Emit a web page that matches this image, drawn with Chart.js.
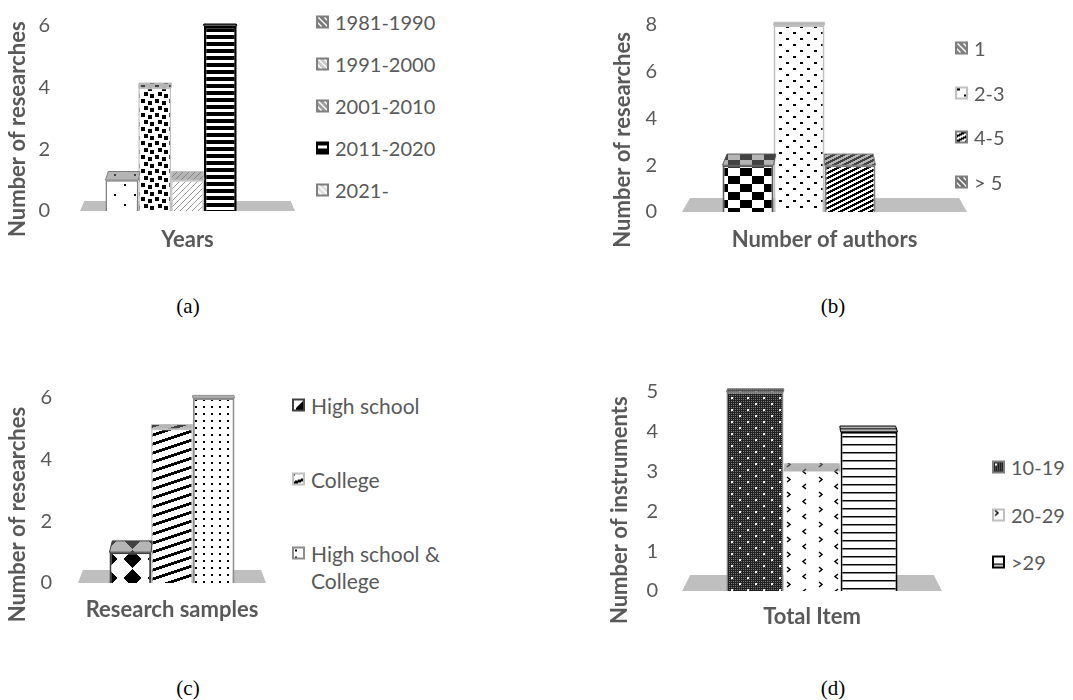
<!DOCTYPE html>
<html>
<head>
<meta charset="utf-8">
<script src="https://cdn.jsdelivr.net/npm/chart.js@4.4.1/dist/chart.umd.min.js"></script>
<style>
  body { margin: 0; background: #fff; width: 1073px; height: 700px; position: relative; overflow: hidden; font-family: Lato, sans-serif; }
  canvas.chart { position: absolute; }
  .item { position: absolute; display: flex; align-items: flex-start; color: #595959; font-size: 20px; line-height: 27px; transform: translateY(-13.5px); }
  .item canvas { margin-top: 7px; margin-right: 6px; flex: none; }
  .caption { position: absolute; font-family: "Liberation Serif", serif; font-size: 21px; color: #000; transform: translate(-50%, -50%); }
</style>
</head>
<body>
<canvas id="years" class="chart"></canvas>
<canvas id="authors" class="chart"></canvas>
<canvas id="samples" class="chart"></canvas>
<canvas id="items" class="chart"></canvas>
<div class="caption" style="left:188px;top:306px">(a)</div>
<div class="caption" style="left:833px;top:306px">(b)</div>
<div class="caption" style="left:188px;top:688px">(c)</div>
<div class="caption" style="left:833px;top:688px">(d)</div>
<script>
// --- data ---
const yearsLabels = ['1981-1990', '1991-2000', '2001-2010', '2011-2020', '2021-'];
const yearsCounts = [1, 4, 1, 6, 0];
const yearsTicks = [0, 2, 4, 6];

const authorsLabels = ['1', '2-3', '4-5', '> 5'];
const authorsCounts = [2, 8, 2, 0];
const authorsTicks = [0, 2, 4, 6, 8];

const samplesLabels = ['High school', 'College', 'High school & College'];
const samplesCounts = [1, 5, 6];
const samplesTicks = [0, 2, 4, 6];

const itemsLabels = ['10-19', '20-29', '>29'];
const itemsCounts = [5, 3, 4];
const itemsTicks = [0, 1, 2, 3, 4, 5];

const INK = '#595959';

// small pattern tiles, built once
function tile(w, h, paint) {
  const c = document.createElement('canvas');
  c.width = w; c.height = h;
  const g = c.getContext('2d');
  g.fillStyle = '#fff';
  g.fillRect(0, 0, w, h);
  paint(g, w, h);
  return c;
}
function pixels(w, h, fn) {
  return tile(w, h, g => {
    for (let y = 0; y < h; y++) for (let x = 0; x < w; x++) {
      const col = fn(x, y);
      if (col) { g.fillStyle = col; g.fillRect(x, y, 1, 1); }
    }
  });
}
function chevron(g, x, y, dir) {
  g.beginPath();
  g.moveTo(x, y); g.lineTo(x + 3 * dir, y + 2.5); g.lineTo(x, y + 5);
  g.stroke();
}
function hatch(grey) {
  return pixels(6, 6, (x, y) => ((x - y) % 6 + 6) % 6 < 2 ? '#fff' : grey);
}

const TILES = {
  sparseDots: () => tile(20, 20, g => { g.fillStyle = '#000'; g.fillRect(4, 4, 2, 2); g.fillRect(14, 14, 2, 2); }),
  confetti: () => tile(14, 14, g => { g.fillStyle = '#000'; [[1, 1], [8, 3], [4, 8], [10, 10]].forEach(([x, y]) => g.fillRect(x, y, 4, 4)); }),
  fineDiag: () => pixels(6, 6, (x, y) => (x + y) % 6 === 0 ? '#9a9a9a' : null),
  hStripes: () => pixels(1, 7, (x, y) => y < 4 ? '#000' : null),
  paleDiag: () => pixels(6, 6, (x, y) => (x + y) % 6 === 0 ? '#c8c8c8' : null),
  checker: () => pixels(24, 16, (x, y) => (Math.floor(x / 12) + Math.floor(y / 8)) % 2 ? null : '#000'),
  dashGrid: () => tile(14, 12, g => { g.fillStyle = '#000'; g.fillRect(2, 2, 3, 2); g.fillRect(9, 8, 3, 2); }),
  lowDiag: () => pixels(10, 5, (x, y) => (x + 2 * y) % 10 < 5 ? '#000' : null),
  blobs: () => pixels(24, 19, (x, y) => {
    const dx = Math.abs(x - 12), dy = Math.abs(y - 9.5);
    return (dx + dy <= 9 || dx * dx + dy * dy <= 42) ? '#000' : null;
  }),
  wideDiag: () => pixels(27, 9, (x, y) => (x + 3 * y) % 27 < 9 ? '#000' : null),
  dotCols: () => tile(8, 7, g => { g.fillStyle = '#000'; g.fillRect(3, 3, 2, 2); }),
  mesh: () => pixels(16, 12, (x, y) => {
    if ((x === 3 || x === 4) && (y === 3 || y === 4)) return '#fff';
    if ((x === 11 || x === 12) && (y === 9 || y === 10)) return '#fff';
    return (x % 2 === 0 || y % 2 === 0) ? '#222' : '#777';
  }),
  chevrons: () => tile(32, 15, g => { g.strokeStyle = '#000'; g.lineWidth = 1.5; chevron(g, 3, 2, 1); chevron(g, 22, 9, -1); }),
  thinLines: () => pixels(1, 8, (x, y) => y === 0 ? '#000' : (y === 1 ? '#888' : null))
};

const pat = name => document.createElement('canvas').getContext('2d').createPattern(TILES[name](), 'repeat');

// look of each bar: fill tile, outline, outline width, legend key
const yearsStyle = [
  { fill: 'sparseDots', border: '#7f7f7f', bw: 1.5, key: '#7a7a7a' },
  { fill: 'confetti', border: '#c0c0c0', bw: 1.5, key: '#c8c8c8' },
  { fill: 'fineDiag', border: '#c0c0c0', bw: 1.5, key: '#9c9c9c' },
  { fill: 'hStripes', border: '#000', bw: 2.5, key: null },
  { fill: 'paleDiag', border: '#d9d9d9', bw: 1, key: '#dedede' }
];
const authorsStyle = [
  { fill: 'checker', border: '#595959', bw: 2, key: '#808080' },
  { fill: 'dashGrid', border: '#c0c0c0', bw: 2, key: null },
  { fill: 'lowDiag', border: '#7f7f7f', bw: 2, key: null },
  { fill: 'paleDiag', border: '#404040', bw: 1, key: '#6e6e6e' }
];
const samplesStyle = [
  { fill: 'blobs', border: '#404040', bw: 2, key: null },
  { fill: 'wideDiag', border: '#c0c0c0', bw: 1.5, key: null },
  { fill: 'dotCols', border: '#8c8c8c', bw: 2, key: null }
];
const itemsStyle = [
  { fill: 'mesh', border: '#7f7f7f', bw: 1.5, key: null },
  { fill: 'chevrons', border: '#ffffff', bw: 0, key: null },
  { fill: 'thinLines', border: '#000', bw: 2, key: null }
];

// floor slab under the bars and the top face of each column
const depthPlugin = {
  id: 'depth',
  beforeDatasetsDraw(chart, args, opts) {
    const { ctx, chartArea: a, scales: { y } } = chart;
    const y0 = y.getPixelForValue(0), d = opts.floor;
    const cx = (a.left + a.right) / 2, s = 1 - d * 0.004;
    ctx.save();
    ctx.fillStyle = '#bfbfbf';
    ctx.beginPath();
    ctx.moveTo(a.left, y0);
    ctx.lineTo(a.right, y0);
    ctx.lineTo(cx + (a.right - cx) * s, y0 - d);
    ctx.lineTo(cx + (a.left - cx) * s, y0 - d);
    ctx.closePath();
    ctx.fill();
    ctx.restore();
  },
  afterDatasetsDraw(chart, args, opts) {
    const { ctx, chartArea: a, scales: { y } } = chart;
    const cx = (a.left + a.right) / 2;
    chart.data.datasets.forEach((ds, i) => {
      const v = ds.data[0];
      if (!v) return;
      const bar = chart.getDatasetMeta(i).data[0];
      const { x, y: top, width } = bar.getProps(['x', 'y', 'width'], true);
      const dd = Math.max(2, opts.floor * (1 - 0.8 * v / y.max));
      const s = 1 - dd * 0.004;
      const l = x - width / 2, r = x + width / 2;
      ctx.save();
      ctx.beginPath();
      ctx.moveTo(l, top);
      ctx.lineTo(r, top);
      ctx.lineTo(cx + (r - cx) * s, top - dd);
      ctx.lineTo(cx + (l - cx) * s, top - dd);
      ctx.closePath();
      ctx.fillStyle = ds.backgroundColor;
      ctx.fill();
      ctx.fillStyle = 'rgba(120,120,120,0.55)';
      ctx.fill();
      if (ds.borderWidth) {
        ctx.strokeStyle = ds.borderColor;
        ctx.lineWidth = 1;
        ctx.stroke();
      }
      ctx.restore();
    });
  }
};

function drawLegend(labels, styles, pos) {
  labels.forEach((text, i) => {
    const st = styles[i];
    const item = document.createElement('div');
    item.className = 'item';
    item.style.left = pos.x + 'px';
    item.style.top = (pos.y + pos.step * i) + 'px';
    if (pos.size) item.style.fontSize = pos.size + 'px';
    if (pos.wrap) item.style.width = pos.wrap + 'px';
    const sw = document.createElement('canvas');
    sw.width = 13; sw.height = 13;
    const g = sw.getContext('2d');
    const src = st.key ? hatch(st.key) : TILES[st.fill]();
    g.fillStyle = g.createPattern(src, 'repeat');
    g.fillRect(0, 0, 13, 13);
    g.strokeStyle = st.key ? '#7f7f7f' : (st.bw ? st.border : '#bfbfbf');
    g.lineWidth = 2;
    g.strokeRect(1, 1, 11, 11);
    const span = document.createElement('span');
    span.textContent = text;
    item.appendChild(sw);
    item.appendChild(span);
    document.body.appendChild(item);
  });
}

function makeChart(id, labels, counts, ticks, styles, cfg) {
  const el = document.getElementById(id);
  el.width = cfg.w; el.height = cfg.h;
  el.style.left = cfg.x + 'px';
  el.style.top = cfg.y + 'px';
  return new Chart(el, {
    type: 'bar',
    data: {
      labels: [''],
      datasets: labels.map((label, i) => ({
        label,
        data: [counts[i]],
        backgroundColor: pat(styles[i].fill),
        borderColor: styles[i].border,
        borderWidth: styles[i].bw,
        borderSkipped: 'bottom',
        barPercentage: 1,
        categoryPercentage: cfg.cat
      }))
    },
    options: {
      responsive: false,
      animation: false,
      events: [],
      layout: { padding: { top: cfg.padTop, right: 5, left: 0, bottom: 0 } },
      plugins: {
        legend: { display: false },
        tooltip: { enabled: false },
        depth: { floor: cfg.floor }
      },
      scales: {
        x: {
          grid: { display: false, drawTicks: false },
          border: { display: false },
          ticks: { display: false },
          title: { display: true, text: cfg.xTitle, color: INK, font: { family: 'Lato', size: 22, weight: 'bold' }, padding: 0 },
          afterFit: s => { s.height = cfg.xH; }
        },
        y: {
          min: ticks[0],
          max: ticks[ticks.length - 1],
          grid: { display: false, drawTicks: false },
          border: { display: false },
          ticks: { stepSize: ticks[1] - ticks[0], color: INK, padding: cfg.tickPad, font: { family: 'Lato', size: 20 } },
          // trailing spaces push the rotated title a little below the axis centre, as in the original
          title: { display: true, text: cfg.yTitle + ' '.repeat(cfg.yShift), color: INK, font: { family: 'Lato', size: 22, weight: 'bold' }, padding: { top: cfg.titlePad, bottom: 0 } },
          afterFit: s => { s.width = cfg.yW; s.paddingTop = 0; s.paddingBottom = 0; }
        }
      }
    },
    plugins: [depthPlugin]
  });
}

makeChart('years', yearsLabels, yearsCounts, yearsTicks, yearsStyle,
  { x: 0, y: 0, w: 300, h: 253, padTop: 26, yW: 80, xH: 42, titlePad: 5, tickPad: 30, cat: 0.763, floor: 10, yShift: 4,
    xTitle: 'Years', yTitle: 'Number of researches' });
makeChart('authors', authorsLabels, authorsCounts, authorsTicks, authorsStyle,
  { x: 560, y: 0, w: 412, h: 253, padTop: 25, yW: 122, xH: 41, titlePad: 50, tickPad: 25, cat: 0.716, floor: 14, yShift: 8,
    xTitle: 'Number of authors', yTitle: 'Number of researches' });
makeChart('samples', samplesLabels, samplesCounts, samplesTicks, samplesStyle,
  { x: 0, y: 340, w: 271, h: 283, padTop: 58, yW: 78, xH: 40, titlePad: 5, tickPad: 26, cat: 0.665, floor: 13, yShift: 9,
    xTitle: 'Research samples', yTitle: 'Number of researches' });
makeChart('items', itemsLabels, itemsCounts, itemsTicks, itemsStyle,
  { x: 560, y: 340, w: 387, h: 290, padTop: 52, yW: 122, xH: 39, titlePad: 47, tickPad: 24, cat: 0.658, floor: 16, yShift: 7,
    xTitle: 'Total Item', yTitle: 'Number of instruments' });

drawLegend(yearsLabels, yearsStyle, { x: 316, y: 22, step: 42 });
drawLegend(authorsLabels, authorsStyle, { x: 955, y: 48, step: 44.7 });
drawLegend(samplesLabels, samplesStyle, { x: 292, y: 405, step: 74, wrap: 170, size: 21 });
drawLegend(itemsLabels, itemsStyle, { x: 992, y: 467, step: 47.5 });
</script>
</body>
</html>
